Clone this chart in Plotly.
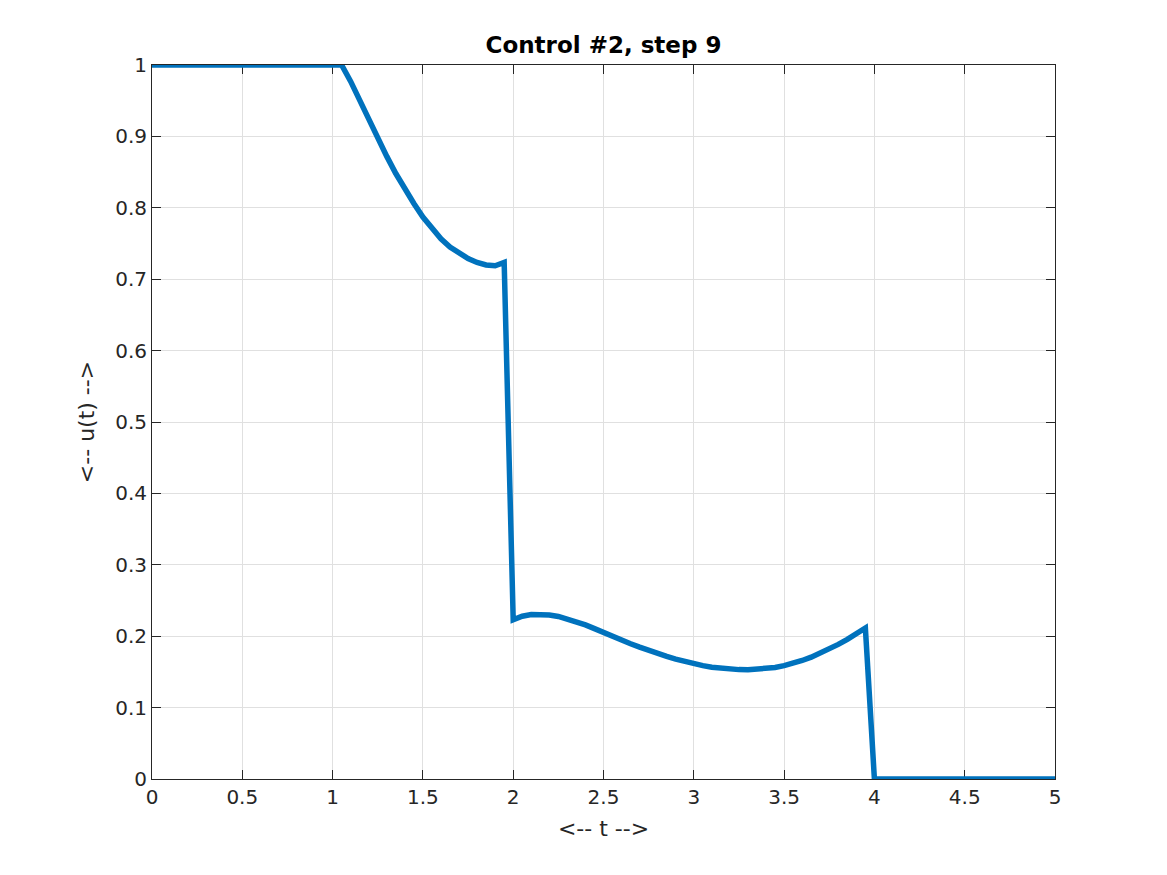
import plotly.graph_objects as go

# Data (samples every 0.05 in t)
t = [0.0, 1.05,
     1.10, 1.15, 1.20, 1.25, 1.30, 1.35, 1.40, 1.45, 1.50, 1.55, 1.60, 1.65,
     1.70, 1.75, 1.80, 1.85, 1.90, 1.95,
     2.00, 2.05, 2.10, 2.15, 2.20, 2.25, 2.30, 2.35, 2.40, 2.45, 2.50, 2.55,
     2.60, 2.65, 2.70, 2.75, 2.80, 2.85, 2.90, 2.95, 3.00, 3.05, 3.10, 3.15,
     3.20, 3.25, 3.30, 3.35, 3.40, 3.45, 3.50, 3.55, 3.60, 3.65, 3.70, 3.75,
     3.80, 3.85, 3.90, 3.95,
     4.00, 5.00]
u = [1.0, 1.0,
     0.977, 0.950, 0.923, 0.897, 0.872, 0.848, 0.826, 0.806, 0.787, 0.7705, 0.7565, 0.745,
     0.7365, 0.729, 0.7235, 0.720, 0.7188, 0.7235,
     0.2230, 0.2280, 0.2303, 0.2308, 0.2298, 0.2276, 0.2243, 0.2203, 0.2158, 0.2106,
     0.2050, 0.1997, 0.1945, 0.1895, 0.1847, 0.1800, 0.1757, 0.1717, 0.1680, 0.1646,
     0.1615, 0.1588, 0.1566, 0.1550, 0.1539, 0.1532, 0.1529, 0.1534, 0.1545, 0.1563,
     0.1588, 0.1620, 0.1660, 0.1707, 0.1761, 0.1820, 0.1885, 0.1955, 0.2030, 0.2115,
     0.0, 0.0]

x_ticks = [0, 0.5, 1, 1.5, 2, 2.5, 3, 3.5, 4, 4.5, 5]
x_tick_text = ["0", "0.5", "1", "1.5", "2", "2.5", "3", "3.5", "4", "4.5", "5"]
y_ticks = [0, 0.1, 0.2, 0.3, 0.4, 0.5, 0.6, 0.7, 0.8, 0.9, 1]
y_tick_text = ["0", "0.1", "0.2", "0.3", "0.4", "0.5", "0.6", "0.7", "0.8", "0.9", "1"]

FONT = "DejaVu Sans"
AX = "#262626"
LINE = "#0072BD"

fig = go.Figure()
fig.add_trace(go.Scatter(x=t, y=u, mode="lines",
                         line=dict(color=LINE, width=5.5),
                         cliponaxis=False, showlegend=False))

axis_common = dict(
    showline=True, linecolor=AX, linewidth=1, mirror="ticks",
    ticks="inside", ticklen=9, tickwidth=1, tickcolor=AX,
    showgrid=True, gridcolor="#e0e0e0", gridwidth=1,
    zeroline=False, tickfont=dict(family=FONT, size=20, color=AX),
    layer="below traces",
)

fig.update_layout(
    width=1167, height=875,
    margin=dict(l=144, r=120, t=57, b=104),
    plot_bgcolor="white", paper_bgcolor="white",
    title=dict(text="<b>Control #2, step 9</b>", x=0.5, xref="paper",
               y=1 - 37 / 875, yref="container", yanchor="middle", xanchor="center",
               font=dict(family=FONT, size=23, color="black")),
    xaxis=dict(range=[0, 5], tickvals=x_ticks, ticktext=x_tick_text,
               title=dict(text="<-- t -->", font=dict(family=FONT, size=22, color=AX), standoff=12),
               **axis_common),
    yaxis=dict(range=[0, 1], tickvals=y_ticks, ticktext=y_tick_text,
               title=dict(text="<-- u(t) -->", font=dict(family=FONT, size=22, color=AX), standoff=14),
               **axis_common),
)

fig.write_html("out.html")
